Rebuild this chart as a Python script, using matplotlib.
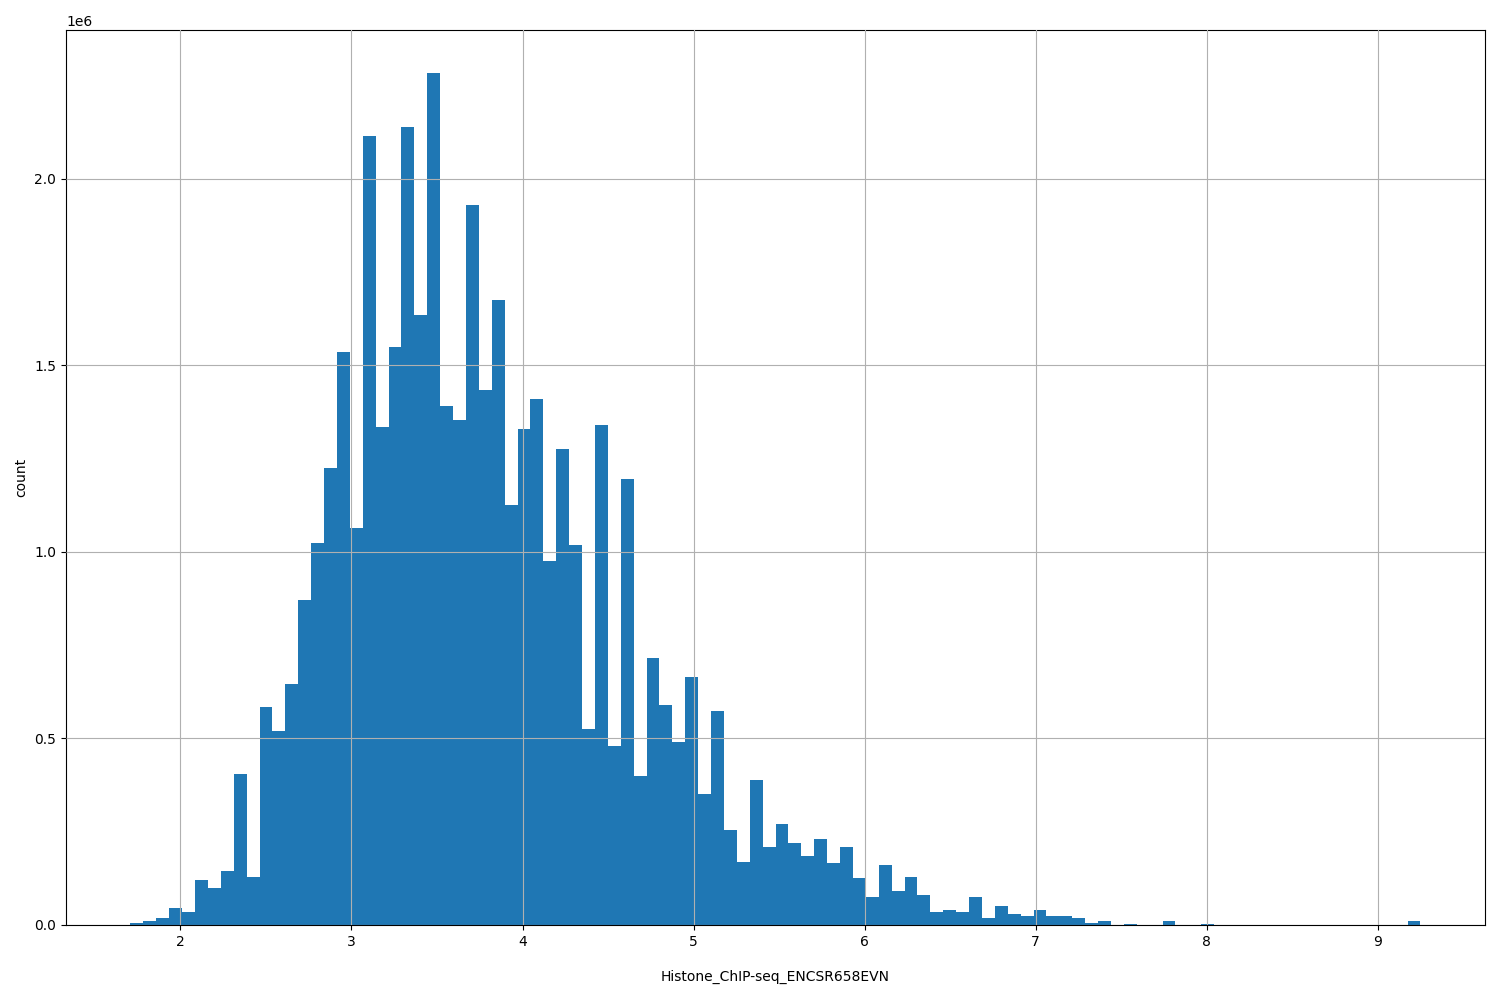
import numpy as np
import matplotlib.pyplot as plt

# histogram: 100 bins between x_min and x_max, counts in millions
x_min = 1.708
x_max = 9.25
counts_m = [
    0.005, 0.01, 0.02, 0.045, 0.035, 0.12, 0.10, 0.145, 0.405, 0.13,
    0.585, 0.52, 0.645, 0.87, 1.025, 1.225, 1.535, 1.065, 2.115, 1.335,
    1.55, 2.14, 1.635, 2.285, 1.39, 1.355, 1.93, 1.435, 1.675, 1.125,
    1.33, 1.41, 0.975, 1.275, 1.02, 0.525, 1.34, 0.48, 1.195, 0.40,
    0.715, 0.59, 0.49, 0.665, 0.35, 0.575, 0.255, 0.17, 0.39, 0.21,
    0.27, 0.22, 0.185, 0.23, 0.165, 0.21, 0.125, 0.075, 0.16, 0.09,
    0.13, 0.08, 0.035, 0.04, 0.035, 0.075, 0.02, 0.05, 0.03, 0.025,
    0.04, 0.025, 0.025, 0.02, 0.005, 0.012, 0.0, 0.003, 0.0, 0.0,
    0.012, 0.0, 0.0, 0.003, 0.0, 0.0, 0.0, 0.0, 0.0, 0.0,
    0.0, 0.0, 0.0, 0.0, 0.0, 0.0, 0.0, 0.0, 0.0, 0.01,
]
x_label = "Histone_ChIP-seq_ENCSR658EVN"

edges = np.linspace(x_min, x_max, len(counts_m) + 1)
heights = np.array(counts_m) * 1e6

fig, ax = plt.subplots(figsize=(15, 10), dpi=100)
fig.subplots_adjust(left=0.044, right=0.99, top=0.97, bottom=0.075)
ax.bar(edges[:-1], heights, width=np.diff(edges), align="edge", color="#1f77b4", linewidth=0)
ax.grid(True)
ax.set_axisbelow(False)
ax.set_xlabel(x_label, labelpad=15)
ax.set_ylabel("count")
fig.savefig("out.png")
